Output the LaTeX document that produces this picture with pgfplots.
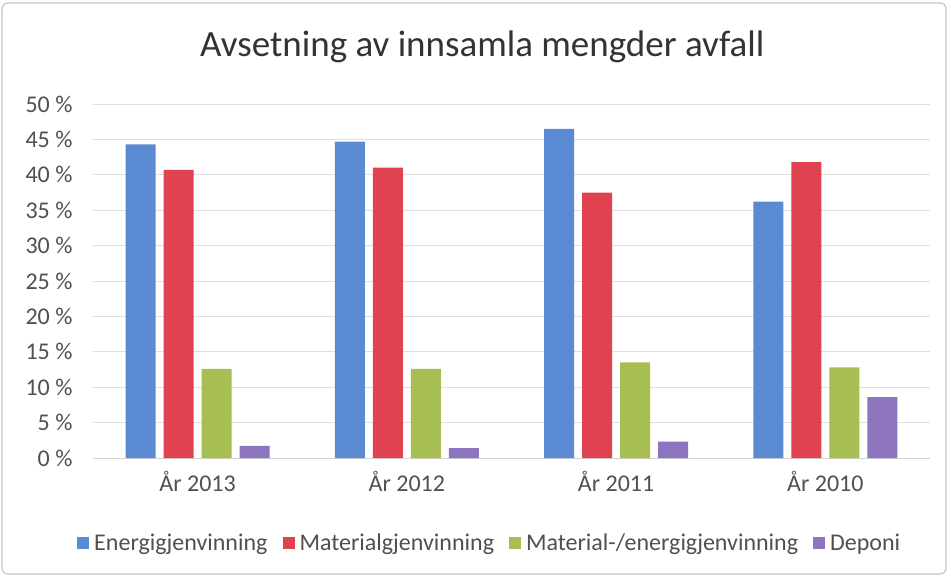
\documentclass[border=0pt]{standalone}
\usepackage{pgfplots}
\pgfplotsset{compat=1.18}
\usepackage{fontspec}
\setmainfont{Carlito}
\definecolor{cblue}{HTML}{5A8AD2}
\definecolor{cred}{HTML}{E0434F}
\definecolor{cgreen}{HTML}{A6BE52}
\definecolor{cpurple}{HTML}{8C74BE}
\definecolor{txt}{HTML}{505050}
\begin{document}
\begin{tikzpicture}
\path[use as bounding box] (-93bp,-118bp) rectangle (858bp,458bp);
\draw[gray!45, line width=1.2bp, rounded corners=6bp] (-91bp,-116bp) rectangle (853bp,455bp);
\begin{axis}[
  scale only axis,
  width=837bp, height=354bp,
  ybar=8bp, bar width=30bp,
  ymin=0, ymax=50,
  xmin=-0.5, xmax=3.5,
  xtick=data,
  xticklabels={År 2013, År 2012, År 2011, År 2010},
  ytick={0,5,...,50},
  yticklabels={0 \%,5 \%,10 \%,15 \%,20 \%,25 \%,30 \%,35 \%,40 \%,45 \%,50 \%},
  ymajorgrids,
  grid style={gray!25, line width=0.8bp},
  axis lines*=left,
  y axis line style={draw=none},
  x axis line style={gray!35, line width=0.8bp},
  major tick length=0pt,
  tick label style={font=\fontsize{24bp}{28bp}\selectfont, text=txt},
  yticklabel style={xshift=-17bp},
  xticklabel style={yshift=-10bp},
  title={Avsetning av innsamla mengder avfall},
  title style={at={(rel axis cs:0.465,1)}, anchor=base, yshift=42bp, font=\fontsize{37bp}{42bp}\selectfont, text=black!80},
  legend style={at={(rel axis cs:0.474,-0.24)}, anchor=center, draw=none, font=\fontsize{24bp}{28bp}\selectfont, text=txt, legend columns=-1,
    /tikz/every odd column/.append style={column sep=3bp},
    /tikz/every even column/.append style={column sep=13bp}},
  legend image code/.code={\fill[#1] (0bp,-6bp) rectangle (12bp,6bp);},
]
\addplot[fill=cblue, draw=none] coordinates {(0,44.3) (1,44.7) (2,46.5) (3,36.2)};
\addplot[fill=cred, draw=none] coordinates {(0,40.7) (1,41.0) (2,37.5) (3,41.8)};
\addplot[fill=cgreen, draw=none] coordinates {(0,12.6) (1,12.6) (2,13.5) (3,12.8)};
\addplot[fill=cpurple, draw=none] coordinates {(0,1.7) (1,1.4) (2,2.3) (3,8.6)};
\legend{Energigjenvinning, Materialgjenvinning, Material-/energigjenvinning, Deponi}
\end{axis}
\end{tikzpicture}
\end{document}
